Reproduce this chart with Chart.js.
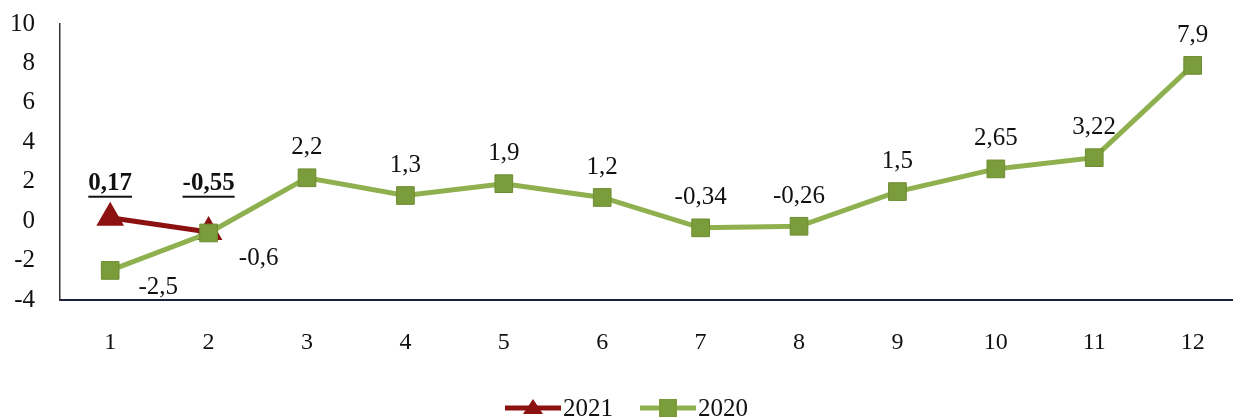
<!DOCTYPE html>
<html>
<head>
<meta charset="utf-8">
<script src="https://cdn.jsdelivr.net/npm/chart.js@4/dist/chart.umd.min.js"></script>
<style>
  html, body { margin: 0; background: #fff; overflow: hidden; }
  #wrap { width: 1233px; height: 419px; position: relative; }
  canvas { display: block; }
</style>
</head>
<body>
<div id="wrap"><canvas id="chartCanvas"></canvas></div>
<script>
// data
const categories = ['1', '2', '3', '4', '5', '6', '7', '8', '9', '10', '11', '12'];
const values2020 = [-2.5, -0.6, 2.2, 1.3, 1.9, 1.2, -0.34, -0.26, 1.5, 2.65, 3.22, 7.9];
const values2021 = [0.17, -0.55];
const yTicks = [-4, -2, 0, 2, 4, 6, 8, 10];

const GREEN_LINE = '#8fb04e';
const GREEN_PT = '#7b9c3a';
const RED = '#8c1212';
const FONT = '"Liberation Serif", "Times New Roman", serif';

const fmt = v => String(v).replace('.', ',');

// label offsets for the 2020 points that don't sit above the marker
const offsets2020 = { 0: [48, 17], 1: [50, 25] };

const labelPlugin = {
  id: 'labels',
  afterDatasetsDraw(chart) {
    const ctx = chart.ctx;
    ctx.save();
    ctx.fillStyle = '#111';
    ctx.textAlign = 'center';
    ctx.textBaseline = 'middle';

    // 2020 labels
    ctx.font = '25px ' + FONT;
    const m20 = chart.getDatasetMeta(0);
    m20.data.forEach((p, i) => {
      const off = offsets2020[i];
      if (off) ctx.fillText(fmt(values2020[i]), p.x + off[0], p.y + off[1]);
      else ctx.fillText(fmt(values2020[i]), p.x, p.y - 30);
    });

    // 2021 labels, bold + underlined, on one row
    ctx.font = 'bold 25px ' + FONT;
    const m21 = chart.getDatasetMeta(1);
    m21.data.forEach((p, i) => {
      const t = fmt(values2021[i]);
      const w = ctx.measureText(t).width;
      const y = chart.scales.y.getPixelForValue(2) + 2;
      ctx.fillText(t, p.x, y);
      ctx.fillRect(p.x - w / 2, y + 12, w, 2);
    });

    // legend
    const ly = 408;
    const items = [
      { x: 505, color: RED, line: RED, style: 'tri', text: '2021' },
      { x: 640, color: GREEN_PT, line: GREEN_LINE, style: 'rect', text: '2020' }
    ];
    ctx.font = '25px ' + FONT;
    ctx.textAlign = 'left';
    items.forEach(it => {
      ctx.strokeStyle = it.line;
      ctx.lineWidth = 5;
      ctx.beginPath();
      ctx.moveTo(it.x, ly);
      ctx.lineTo(it.x + 56, ly);
      ctx.stroke();
      ctx.fillStyle = it.color;
      const cx = it.x + 28;
      if (it.style === 'tri') {
        ctx.beginPath();
        ctx.moveTo(cx, ly - 9);
        ctx.lineTo(cx + 10, ly + 6);
        ctx.lineTo(cx - 10, ly + 6);
        ctx.closePath();
        ctx.fill();
      } else {
        ctx.fillRect(cx - 9, ly - 9, 18, 18);
      }
      ctx.fillStyle = '#111';
      ctx.fillText(it.text, it.x + 58, ly + 1);
    });
    ctx.restore();
  }
};

const ctx = document.getElementById('chartCanvas').getContext('2d');
new Chart(ctx, {
  type: 'line',
  data: {
    datasets: [
      {
        label: '2020',
        data: values2020.map((v, i) => ({ x: i + 1, y: v })),
        borderColor: GREEN_LINE,
        borderWidth: 5,
        pointStyle: 'rect',
        pointRadius: 12.5,
        pointBackgroundColor: GREEN_PT,
        pointBorderColor: '#6d8c32',
        pointBorderWidth: 1,
        tension: 0
      },
      {
        label: '2021',
        data: values2021.map((v, i) => ({ x: i + 1, y: v })),
        borderColor: RED,
        borderWidth: 5,
        pointStyle: 'triangle',
        pointRadius: 11,
        pointBackgroundColor: RED,
        pointBorderColor: RED,
        tension: 0
      }
    ]
  },
  options: {
    responsive: true,
    maintainAspectRatio: false,
    animation: false,
    layout: { autoPadding: false, padding: { top: 24, left: 0, right: 0, bottom: 0 } },
    plugins: { legend: { display: false }, tooltip: { enabled: false } },
    scales: {
      x: {
        type: 'linear',
        min: 0.49,
        max: 12.41,
        afterBuildTicks: s => { s.ticks = categories.map((c, i) => ({ value: i + 1 })); },
        afterFit: s => { s.height = 119; s.paddingLeft = 0; s.paddingRight = 0; },
        grid: { display: false, drawTicks: false },
        border: { display: true, color: '#1c2040', width: 2 },
        ticks: {
          padding: 28,
          color: '#111',
          font: { family: FONT, size: 24 },
          callback: v => categories[v - 1]
        }
      },
      y: {
        min: -4,
        max: 10,
        afterBuildTicks: s => { s.ticks = yTicks.map(v => ({ value: v })); },
        afterFit: s => { s.width = 60; s.paddingTop = 0; s.paddingBottom = 0; },
        grid: { display: false, drawTicks: false },
        border: { display: true, color: '#333', width: 1.5 },
        ticks: {
          padding: 25,
          color: '#111',
          font: { family: FONT, size: 25 }
        }
      }
    }
  },
  plugins: [labelPlugin]
});
</script>
</body>
</html>
